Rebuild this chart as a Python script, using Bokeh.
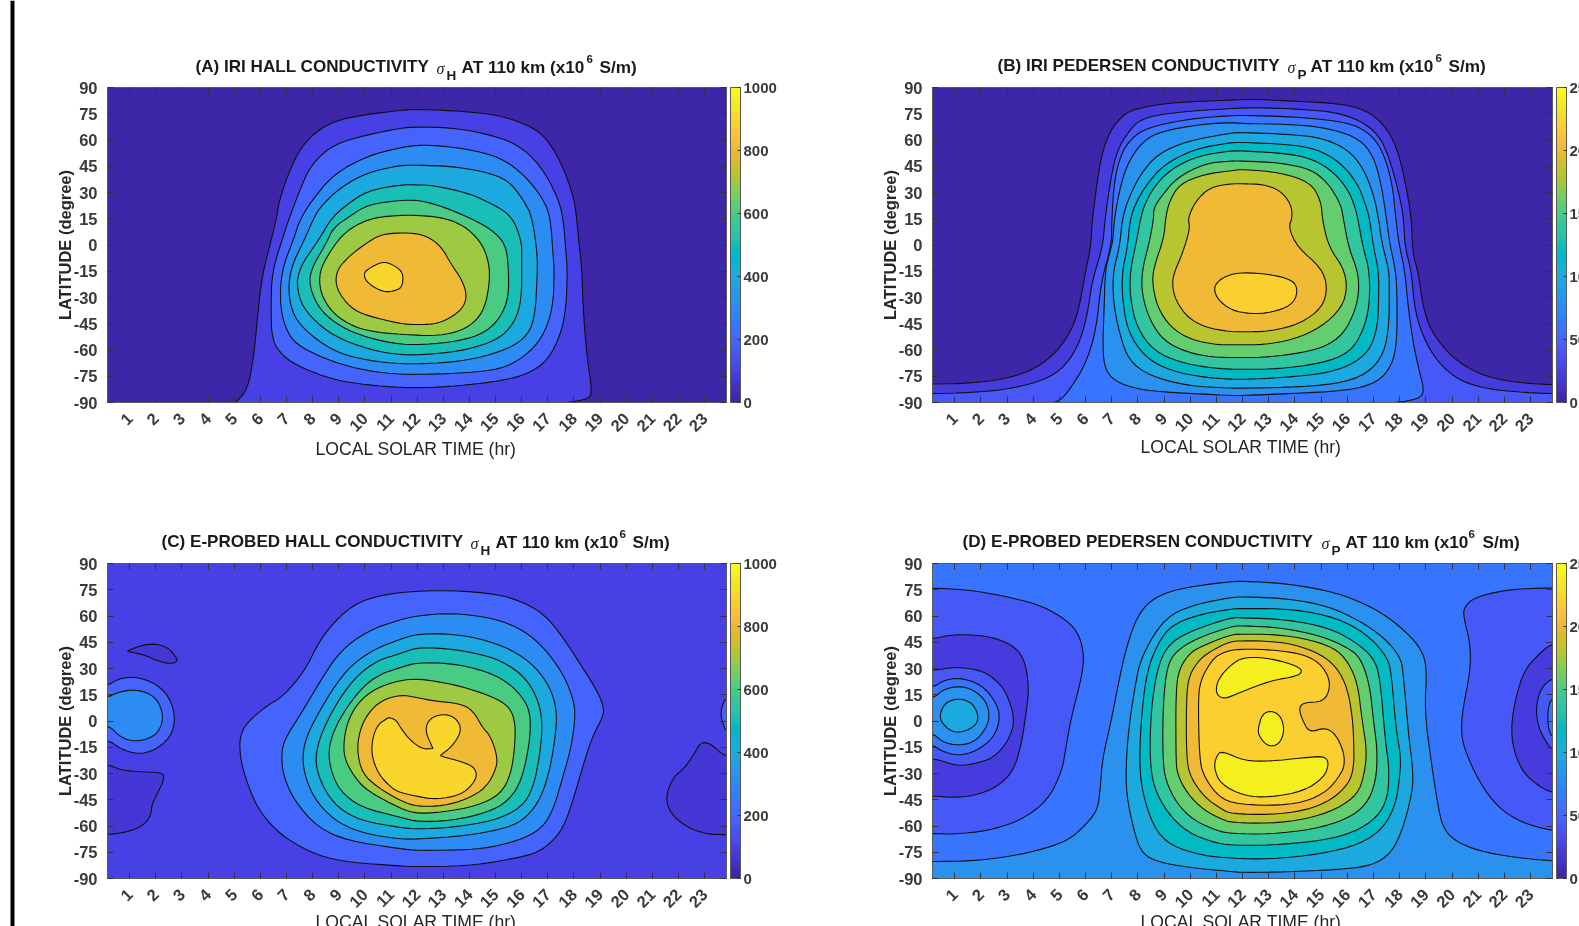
from math import pi
from bokeh.core.properties import value
from bokeh.embed import file_html
from bokeh.resources import INLINE
from bokeh.plotting import figure
from bokeh.layouts import column, row
from bokeh.models import (ColorBar, ColumnDataSource, FixedTicker, LinearAxis,
                          LinearColorMapper, Range1d)

HOURS = list(range(1, 24))
LATS = list(range(-90, 91, 15))
BAR_A = [0, 200, 400, 600, 800, 1000]
BAR_B = [0, 50, 100, 150, 200, 250]

PARULA_RGB = [
 (.2422,.1504,.6603),(.2504,.1650,.7076),(.2578,.1818,.7511),(.2647,.1978,.7952),(.2706,.2147,.8364),(.2751,.2342,.8710),
 (.2783,.2559,.8991),(.2803,.2782,.9221),(.2813,.3006,.9414),(.2810,.3228,.9579),(.2795,.3447,.9717),(.2760,.3667,.9829),
 (.2699,.3892,.9906),(.2602,.4123,.9952),(.2440,.4358,.9988),(.2206,.4603,.9973),(.1963,.4847,.9892),(.1834,.5074,.9798),
 (.1786,.5289,.9682),(.1764,.5499,.9520),(.1687,.5703,.9359),(.1540,.5902,.9218),(.1460,.6091,.9079),(.1380,.6276,.8973),
 (.1248,.6459,.8883),(.1113,.6635,.8763),(.0952,.6798,.8598),(.0689,.6948,.8394),(.0297,.7082,.8163),(.0036,.7203,.7917),
 (.0067,.7312,.7660),(.0433,.7411,.7394),(.0964,.7500,.7120),(.1408,.7584,.6842),(.1717,.7670,.6554),(.1938,.7758,.6251),
 (.2161,.7843,.5923),(.2470,.7918,.5567),(.2906,.7973,.5188),(.3406,.8008,.4789),(.3909,.8029,.4354),(.4456,.8024,.3909),
 (.5044,.7993,.3480),(.5616,.7942,.3045),(.6174,.7876,.2612),(.6720,.7793,.2227),(.7242,.7698,.1910),(.7738,.7598,.1646),
 (.8203,.7498,.1535),(.8634,.7406,.1596),(.9035,.7330,.1774),(.9393,.7288,.2100),(.9728,.7298,.2394),(.9956,.7434,.2371),
 (.9970,.7659,.2199),(.9952,.7893,.2028),(.9892,.8136,.1885),(.9786,.8386,.1766),(.9676,.8639,.1643),(.9610,.8890,.1537),
 (.9597,.9135,.1423),(.9628,.9373,.1265),(.9691,.9606,.1064),(.9769,.9839,.0805)]
PARULA = ["#%02x%02x%02x" % tuple(round(c * 255) for c in t) for t in PARULA_RGB]

# ---- contour lines: (local time hr, latitude deg) ----
A100 = [(5.05,-91),(5.05,-90),(5.5,-83),(5.75,-64),(5.95,-32),(6.08,-17),(6.4,2),(6.6,14),(6.72,25),(7.05,40),(7.55,56),(8.3,67),(9.3,73),(11.35,77),(12,77.6),(13.9,76.3),(15.2,74),(16.5,67),(17.1,58),(17.6,44),(18,27),(18.1,16),(18.2,0),(18.3,-13),(18.35,-36),(18.5,-64),(18.7,-84),(18.55,-88),(17.75,-90),(17.5,-91)]
A200 = [(11.36,66.8),(10.1,63),(8.8,57.6),(7.95,46),(7.55,33),(7.05,13),(6.9,6),(6.45,-15),(6.4,-36),(6.45,-55),(6.9,-64),(7.55,-70),(8.8,-77),(10.1,-80),(11.36,-81.5),(12.6,-81.5),(13.9,-80),(15.2,-77.6),(16.2,-74),(17,-66),(17.5,-51),(17.7,-36),(17.75,-15),(17.7,-5),(17.6,14),(17.4,27),(16.7,46),(15.8,58),(14.55,64),(13.3,67),(12,67.5)]
A300 = [(11.36,55.7),(10.1,51),(8.8,40.4),(7.95,25),(7.5,14),(7.3,4.4),(6.8,-15),(6.75,-36),(7.05,-51),(7.55,-58.6),(8.8,-67),(10.1,-72),(11.36,-74),(12.6,-73.8),(13.9,-73),(15.2,-71),(16.1,-64),(16.8,-53),(17.2,-36),(17.25,-15),(17.2,-5),(17.1,16),(16.8,27),(16.1,40),(15.2,50),(13.9,55),(12.6,57),(12,57)]
A400 = [(11.36,45.6),(10.1,41.4),(9.07,33),(8.3,22),(8,14),(7.73,4.4),(7.1,-15),(7.1,-34),(7.55,-47),(8.8,-61),(10.1,-66),(11.36,-68),(12.6,-67.7),(13.9,-66),(15.2,-61),(16.1,-54),(16.5,-43),(16.6,-17),(16.6,-5),(16.4,16),(16.1,25),(15.5,37),(14.55,42),(13.3,45),(12,45.6)]
A500 = [(11.36,34.4),(10.1,31),(9.3,23),(8.7,15),(8.3,4.4),(7.4,-15),(7.45,-30),(7.9,-41),(8.8,-52),(10.1,-59.5),(11.36,-63),(12.6,-62.4),(13.9,-60),(15.1,-54),(15.7,-45),(16,-32),(16,-7),(16,2),(15.65,16),(14.95,23),(13.9,30),(12.6,34),(12,34.4)]
A600 = [(11.36,25.6),(10.1,23),(9.45,16.7),(8.8,10),(8.5,0.5),(7.9,-15),(7.9,-25),(8.3,-37.6),(9.1,-47),(10.1,-53),(11.36,-57),(12.6,-56.7),(13.9,-54),(14.7,-49),(15.2,-41),(15.5,-30),(15.5,-13),(15.4,-1),(15.1,5.5),(14.5,12),(13.4,19.5),(12.6,23.7),(12,25.6)]
A700 = [(11.36,17),(10.35,15.7),(9.6,11),(9.1,5),(8.7,-3),(8.25,-15),(8.3,-28),(8.8,-39.5),(9.6,-47),(10.5,-50),(11.36,-51),(12.6,-52),(13.5,-50),(14.15,-45),(14.6,-36),(14.8,-18.6),(14.7,-7),(14.4,2.5),(13.8,11),(13,15.7),(12,17)]
A800 = [(11.36,7),(10.6,6),(10,0.5),(9.35,-7),(8.9,-15),(8.9,-25),(9.45,-36),(10.1,-40.5),(11.36,-45),(12,-45.6),(12.8,-45),(13.4,-40.5),(13.8,-35),(13.9,-28),(13.7,-19.5),(13.3,-11),(12.95,-1.5),(12.5,4),(12,6.6)]
A900 = [(9.95,-16),(10.2,-13),(10.6,-10),(10.9,-10),(11.36,-14),(11.47,-18),(11.43,-23),(11.3,-25.5),(10.85,-27),(10.5,-25.5),(10.05,-21)]

B20 = [(-1,-79.5),(0.15,-79.5),(1.6,-79),(2.85,-76.7),(3.9,-72),(4.7,-64),(5.3,-53),(5.7,-40),(6,-15),(6.2,-1),(6.25,14),(6.45,37),(6.65,54),(7,67),(7.5,75),(7.95,78),(9.25,81.4),(11.55,82.8),(12.4,83.3),(13.7,82.4),(15.6,81),(16.65,77.6),(17.4,69),(17.9,55.7),(18.2,37),(18.45,16),(18.5,-5),(18.7,-15),(18.9,-36),(19.2,-49),(19.85,-62),(20.75,-72),(22,-78),(23.85,-80),(25,-80),(25,-100),(-1,-100)]
B40 = [(-1,-85),(0.15,-85),(1.6,-84.3),(2.85,-82.8),(4.15,-78.6),(5.05,-72),(5.7,-58.6),(6.05,-41.5),(6.25,-20.5),(6.65,-1.3),(6.75,15.7),(6.95,37),(7.2,54),(7.65,65),(8.1,72),(9.25,75.7),(11.55,78),(12.4,78.6),(14.3,77.6),(15.6,75.7),(16.5,71),(17.2,63),(17.6,50),(17.95,31),(18.15,16),(18.2,-1),(18.45,-15),(18.55,-34),(18.8,-49),(19.3,-64),(20.1,-76),(21.1,-81.6),(22.4,-84),(23.85,-85),(25,-85),(25,-100),(-1,-100)]
B60 = [(4.5,-92),(4.5,-90.3),(5,-89.6),(5.45,-81.4),(6,-68),(6.4,-49),(6.6,-20.5),(7,0.5),(7,15.7),(7.1,37),(7.35,52),(7.75,61),(8.35,67),(9.9,72),(11.55,74),(12.4,74),(14.3,73),(16,70),(16.75,65),(17.3,55.7),(17.7,37),(17.85,16),(17.95,2.5),(18.2,-15),(18.3,-32),(18.5,-55),(18.75,-72),(18.95,-84),(18.7,-88),(17.9,-90),(17.4,-90.3),(17.4,-92)]
B80 = [(11.55,-86),(9.25,-84.3),(7.95,-82.4),(7.1,-77.6),(6.75,-71),(6.65,-60),(6.7,-39.5),(6.75,-15),(6.9,-5.5),(7.05,2.5),(7.1,15.7),(7.35,35),(7.65,48),(8.2,59.5),(8.9,65),(10.4,69),(11.55,70),(12,69.4),(13.7,69),(15,67.5),(16.25,62.4),(16.9,53.8),(17.25,38.6),(17.5,15),(17.6,2.5),(17.85,-15),(17.9,-28),(17.9,-55),(17.7,-69),(17.15,-78.6),(16,-83.3),(13.7,-85),(12,-86)]
B100 = [(12,64.3),(13.7,63.3),(15,61.4),(16,54.8),(16.6,44.3),(17,29),(17.2,15),(17.3,2.5),(17.6,-15),(17.6,-24.3),(17.6,-45),(17.4,-62.4),(16.75,-73.8),(15.6,-79.5),(13.7,-81.4),(12,-81.8),(11.55,-81.8),(9.9,-80.5),(8.45,-74.8),(7.65,-66),(7.3,-51),(7.05,-32),(7.05,-15),(7.3,-1.3),(7.4,15),(7.65,27),(8.1,40.5),(8.75,52),(9.9,59.5),(11.55,64)]
B120 = [(11.55,58.6),(10.15,54.8),(9,46),(8.35,35),(7.95,25),(7.7,15),(7.6,-1.3),(7.4,-15),(7.4,-30),(7.6,-49),(8.25,-64),(9.25,-72),(10.55,-75.7),(11.55,-76.7),(12,-76.7),(13.05,-76.3),(15,-73.8),(16.1,-69),(16.85,-60.5),(17.15,-47),(17.2,-32),(17.2,-15),(17,-1.3),(16.85,15),(16.7,23),(16.4,35),(15.75,47),(14.85,54.8),(13.7,57.6),(12,58.6)]
B140 = [(11.55,53.8),(10.3,51),(9.25,43.3),(8.6,33),(8.25,23),(8.1,15),(7.95,2.5),(7.7,-15),(7.7,-30),(7.95,-47),(8.6,-60.5),(9.6,-67),(10.65,-70),(11.55,-71),(12,-71),(13.05,-71),(14.45,-69),(15.6,-65),(16.25,-58.6),(16.65,-47),(16.85,-34),(16.85,-15),(16.6,-1.3),(16.4,15),(16.3,21.4),(16.05,31),(15.5,41.4),(14.7,49),(13.7,52.3),(12,53.8)]
B160 = [(11.55,48),(10.55,46.6),(9.5,38.6),(8.9,28),(8.6,21),(8.6,15),(8.45,2.5),(8.15,-15),(8.15,-28),(8.45,-43),(9,-55),(9.9,-61.4),(10.8,-64),(11.55,-64.3),(12,-64.3),(12.7,-64.3),(13.95,-62.4),(15.1,-58.6),(15.85,-51),(16.3,-37.6),(16.45,-26),(16.4,-15),(16.05,-1.3),(15.85,15),(15.75,23.3),(15.25,35.7),(14.6,43.3),(13.45,47),(12,48)]
B180 = [(11.55,42.4),(10.55,40.5),(9.6,35),(9.2,25),(9.05,15),(9,4.4),(8.6,-13),(8.55,-22.4),(8.75,-35.7),(9.25,-47),(10,-54),(11,-57),(11.55,-57),(12,-57),(12.8,-57),(13.95,-54),(15,-47),(15.8,-35.7),(16,-24),(15.85,-13),(15.3,-1.3),(15.05,13.8),(15,25),(14.6,35.7),(13.45,41.4),(12,43.3)]
B200 = [(11.55,35),(10.75,33),(10.2,25),(9.9,15),(10,10),(9.7,-5),(9.4,-15),(9.3,-22.4),(9.45,-32),(9.9,-41.4),(10.55,-47),(11.55,-49.6),(12,-49.6),(13.05,-49.4),(14.2,-45),(15.05,-35.7),(15.25,-24),(15,-13),(14.1,-1.3),(13.75,10),(13.9,15.7),(13.85,23.3),(13.45,31),(12.8,34.7),(12,35)]
B220 = [(10.9,-24),(11.15,-19.5),(11.55,-16.8),(12,-15.7),(13.05,-16.7),(13.9,-20),(14.1,-25),(14,-32),(13.55,-36.7),(12.7,-39.5),(11.9,-38.6),(11.4,-35.7),(11,-30)]

C200 = [(11.36,73.8),(10.1,70),(9.35,64),(8.7,54.4),(8.2,44),(7.7,28.7),(6.9,14.4),(6.15,7.7),(5.5,-0.8),(5.25,-7.5),(5.2,-15),(5.3,-26.6),(5.75,-45.6),(6.25,-57),(7,-67.5),(8.2,-77),(9.45,-80.9),(11.36,-82.8),(12,-83.3),(13.9,-82.8),(15.2,-80),(16.5,-76),(17.1,-70),(17.6,-61),(18,-43.7),(18.4,-22.8),(18.75,-7.5),(19.1,2),(19.15,7.7),(18.9,17),(18.25,32.4),(17.5,49.6),(16.85,61),(16.1,67.7),(15.1,72.5),(13.3,74.8)]
C300 = [(11.36,58),(10.1,51.5),(9.05,40),(8.3,23),(7.55,4),(6.9,-11),(6.8,-21),(6.9,-32),(7.3,-45.6),(8.2,-60.9),(9.35,-68.5),(11.36,-73),(12,-74),(13.3,-73.8),(14.55,-73),(15.85,-68.5),(16.75,-61.8),(17.2,-51),(17.5,-36),(17.9,-15),(18.05,2),(18,11.5),(17.6,26.8),(16.85,42),(16.1,51.5),(15.1,58),(13.9,61),(12.9,61.4),(12,60)]
C400 = [(11.36,46.8),(10.35,41),(9.45,31.5),(8.8,19),(8.2,4),(7.75,-9.4),(7.6,-21),(7.75,-34),(8.2,-47.5),(9.05,-59),(10.1,-64.7),(11.36,-67.5),(12,-67.5),(13.9,-65.6),(15.5,-60.9),(16.2,-55),(16.75,-43.7),(17.1,-26.6),(17.3,-7.5),(17.35,5.8),(17.1,19),(16.5,31.5),(15.6,41),(14.3,47.7),(13,50),(12,49.6)]
C500 = [(11.36,38.6),(10.45,34.4),(9.7,25.8),(9.05,13.4),(8.5,-1.7),(8.2,-13),(8.1,-24.7),(8.4,-38),(8.95,-49.4),(9.85,-57),(11.36,-60.9),(12,-61.8),(13.3,-60.9),(14.95,-57),(16,-49.4),(16.45,-38),(16.7,-19),(16.8,-1.7),(16.65,11.5),(16.15,24.9),(15.25,34.4),(14.2,39),(13,41.6),(12,42)]
C600 = [(11.36,30.6),(10.6,26.8),(9.95,20),(9.3,7.7),(8.8,-5.6),(8.6,-17),(8.7,-28.5),(9.05,-40),(9.85,-49.4),(11.36,-55),(12,-57.6),(13.3,-57),(14.7,-52.3),(15.5,-45.6),(16,-34),(16.3,-13),(16.35,2),(16.15,11.5),(15.5,22),(14.6,28.7),(13.3,33),(12,33.4)]
C700 = [(11.36,23.3),(10.45,19),(9.8,11.5),(9.4,2),(9.2,-9.4),(9.2,-21),(9.6,-32),(10.1,-40),(11.36,-50),(12,-53),(13,-52),(14.3,-48.5),(15.2,-41.8),(15.6,-30),(15.75,-13),(15.75,0.2),(15.5,8.7),(14.8,14.4),(13.65,20),(12.6,23),(12,24)]
C800 = [(11.36,15),(10.6,11.5),(10.1,4),(9.8,-5.6),(9.7,-17),(9.9,-30),(10.5,-38),(11.36,-45.6),(12,-48.9),(13,-48.5),(13.9,-44.7),(14.65,-38),(15.05,-26.6),(15.05,-19),(14.8,-8.5),(14.5,-3.7),(14.15,5.8),(13.65,10),(12.6,11.5),(12,13.4)]
C900 = [(10.85,1.5),(10.5,-2),(10.3,-9.4),(10.25,-19),(10.5,-30),(11,-38),(11.36,-41),(12,-43),(12.6,-44.7),(13.4,-43.3),(13.9,-39.9),(14.3,-32.3),(14.2,-26.6),(13.8,-23.7),(12.9,-20),(12.9,-19.5),(13.3,-15),(13.65,-7.5),(13.65,-1.8),(13.35,3),(12.9,3.9),(12.45,1),(12.3,-5.6),(12.6,-15.5),(12.6,-15.8),(12.2,-16),(11.75,-11.3),(11.36,-3.8),(11.2,0.5),(10.95,2)]
C_L1_OUT = [(-1,20),(0.15,20),(0.53,24),(1.17,25.4),(1.93,22),(2.5,14.4),(2.76,2),(2.57,-9.4),(1.93,-17),(1.3,-19),(0.65,-16),(0.15,-10.4),(-1,-10.4)]
C_L1_IN = [(-1,13.4),(0.15,13.4),(0.53,16.3),(1.1,18),(1.68,16.3),(2.1,11.5),(2.3,2),(2.1,-6.6),(1.68,-10.4),(1.17,-11.7),(0.65,-9.4),(0.15,-1.7),(-1,-1.7)]
C_LOW_N = [(0.9,40),(1.4,43),(1.95,44.3),(2.45,42),(2.7,38),(2.85,34.4),(2.6,32.5),(2.05,34.4),(1.55,37.8),(0.95,39.7)]
C_LOW_S = [(-1,-24.7),(0.15,-24.7),(0.65,-28),(1.3,-29),(2.3,-29.4),(2.3,-34),(2.05,-41.8),(1.85,-47.5),(1.8,-55),(1.4,-60.9),(0.8,-63.7),(0.15,-65),(-1,-65)]
C_LOW_E = [(25,-20.9),(23.8,-20.9),(23.25,-13),(22.85,-12),(22.6,-19),(22.2,-27.5),(21.8,-32),(21.5,-43.7),(21.7,-53),(22.35,-61),(23.1,-64.7),(23.8,-65),(25,-65)]
C_E_OUT = [(25,15),(23.85,15),(23.6,5.8),(23.7,-1.8),(23.85,-6.6),(25,-6.6)]

DW40 = [(-1,76),(0.15,76),(1.6,74.8),(2.85,71.5),(4.15,66.8),(5.05,60),(5.7,51.5),(5.95,38),(5.85,25),(5.45,2),(5.25,-15),(5.1,-28.5),(4.55,-45.6),(3.5,-57),(2.25,-62.8),(0.95,-64.7),(0.15,-64.3),(-1,-64.3)]
DW20 = [(-1,46.8),(0.15,46.8),(0.95,49.6),(2.25,48.7),(3.15,44),(3.65,36.3),(3.85,19),(3.7,2),(3.55,-13),(3.25,-28.5),(2.6,-38),(1.7,-42.8),(0.95,-43.7),(0.15,-42.8),(-1,-42.8)]
DW41 = [(-1,28.7),(0.15,28.7),(1.05,31),(2.1,28.7),(2.75,21),(3.05,13.4),(3.3,0.2),(3.05,-11.3),(2.5,-21),(1.7,-24.7),(1.05,-25.6),(0.15,-21),(-1,-21)]
DW60 = [(-1,19),(0.15,19),(0.55,23),(1.15,24.9),(2,21),(2.55,11.5),(2.75,2),(2.5,-9.4),(1.85,-17),(1.15,-20),(0.45,-17),(0.15,-13.3),(-1,-13.3)]
DW80 = [(-1,12.5),(0.15,12.5),(0.55,18),(1.15,20),(1.7,18),(2.2,11.5),(2.35,2),(2.1,-6.6),(1.7,-12.3),(1.15,-14),(0.55,-12.3),(0.15,-6.6),(-1,-6.6)]
DW100 = [(0.45,4.9),(0.65,10.6),(1.15,13),(1.65,10.6),(1.9,3.9),(1.85,-1.8),(1.45,-5.6),(1.05,-6.6),(0.75,-4.7),(0.45,0.2)]
DE40 = [(25,76),(23.3,76),(22,74.8),(20.85,70.6),(20.45,64.8),(20.45,59),(20.7,44),(20.7,28.7),(20.4,5.8),(20.35,-5.6),(20.45,-15),(21,-34),(21.75,-49.4),(22.65,-58),(23.85,-63),(25,-63)]
DE20 = [(25,44.9),(23.85,44.9),(23.3,38),(22.75,28.7),(22.4,11.5),(22.25,-5.6),(22.4,-19),(22.75,-30),(23.3,-37),(23.85,-41.4),(25,-41.4)]
DE41 = [(25,24.9),(23.85,24.9),(23.4,19),(23.2,7.7),(23.3,-3.7),(23.6,-12),(23.85,-17),(25,-17)]
DE60 = [(25,13.4),(23.85,13.4),(23.7,9.6),(23.65,2),(23.7,-5.6),(23.85,-9.4),(25,-9.4)]
D80 = [(-1,-80.3),(0.15,-80.3),(1.6,-80),(2.85,-78),(4.15,-74.2),(5.3,-68.5),(5.9,-60.9),(6.45,-51.3),(6.55,-40),(6.65,-20.8),(6.95,-2),(7.35,28.7),(7.6,44),(7.95,59),(8.45,68.7),(9.25,74.4),(10.5,77.8),(11.55,79.6),(12,79.9),(13.7,78.6),(15.6,73.4),(17,64.8),(18,54.4),(18.8,42),(19.05,30.6),(18.95,5.8),(19.2,-22.8),(19.45,-47.5),(19.65,-60.9),(20.1,-68.5),(21,-74.2),(22.4,-78),(23.85,-80),(25,-80),(25,-100),(-1,-100)]
D100 = [(11.55,70.6),(10.25,66.8),(9.25,61),(8.6,49.6),(8.1,34.4),(7.95,24.9),(7.7,2),(7.55,-21),(7.55,-41.8),(7.85,-62.8),(8.1,-74.2),(8.6,-80),(9.9,-83.7),(11.55,-86),(12,-86.6),(13.7,-86.2),(15.6,-85),(16.9,-82.8),(17.65,-76),(18.1,-62.8),(18.5,-39.9),(18.5,-26.6),(18.35,-9.4),(18.15,24.9),(18.05,36.3),(17.4,47.7),(16.5,57),(15.25,65.8),(13.7,70),(12,71)]
D120 = [(11.55,64),(10.25,60.5),(9.25,54.4),(8.75,44),(8.35,28.7),(8.15,5.8),(8.05,-21),(8.15,-40),(8.6,-60.9),(9.25,-71.3),(10.5,-77),(11.55,-78.4),(13.05,-79),(15,-76),(16.5,-70.4),(17.4,-60.9),(17.85,-47.5),(18,-32.3),(18.05,-20.8),(17.85,-3.6),(17.7,24.9),(17.55,36.3),(16.75,49.6),(15.6,59),(13.95,64),(12,64.3)]
D140 = [(11.55,59),(10.4,53.5),(9.5,47.5),(9,40),(8.7,26.8),(8.5,5.8),(8.45,-20.8),(8.6,-38),(9.15,-53),(9.9,-63.7),(10.9,-69.4),(11.55,-71),(13.05,-71),(15,-68.5),(16.25,-63.7),(17.15,-55),(17.55,-43.7),(17.6,-26.6),(17.45,-11.3),(17.25,24.9),(17,36.3),(16.25,45.8),(15.25,53.4),(13.7,58),(12,59)]
D160 = [(11.55,54),(10.4,48),(9.75,43),(9.25,36.3),(9.05,24.9),(8.95,4),(8.95,-20.8),(9.05,-34),(9.5,-47.5),(10.15,-57),(11.05,-62.8),(11.55,-64.3),(13.05,-64.7),(14.75,-61.8),(16,-56),(16.75,-47.5),(17.1,-34),(17.15,-17),(17,0.2),(16.85,21),(16.5,36.3),(16,42),(15,48.7),(13.45,53.4),(12,54.4)]
D180 = [(11.55,49.4),(10.4,42.5),(10,39),(9.6,30.6),(9.45,19),(9.45,-20.8),(9.5,-30.4),(9.9,-41.8),(10.55,-51.3),(11.2,-56),(11.55,-58),(13.05,-58.6),(14.45,-56),(15.6,-50.4),(16.4,-41.8),(16.65,-30.4),(16.75,-17),(16.55,2),(16.4,21),(16.05,33.4),(15.5,42),(14.3,47.5),(13.05,49.6),(12,49.6)]
D200 = [(11.55,45.5),(10.9,41),(10.35,35.3),(9.95,25.8),(9.85,13.4),(9.85,-20.8),(10,-32),(10.55,-43.7),(11.2,-50.4),(11.55,-53),(13.05,-53.6),(14.35,-51.3),(15.35,-45.6),(16.05,-36),(16.25,-26.6),(16.25,-13),(16.2,2),(16,19),(15.6,30.6),(15,38),(13.95,44),(12.8,45.8),(12,45.8)]
D220 = [(11.55,40.5),(11,37.5),(10.65,30.6),(10.4,23),(10.3,13.4),(10.35,-22.8),(10.55,-32.3),(11,-41.8),(11.55,-47),(13.05,-48.5),(14.35,-46.6),(15.25,-40),(15.75,-30.4),(15.9,-24.7),(15.85,-17),(15.55,-7.5),(15.15,-3.7),(14.55,-6.6),(14.3,0.1),(14.15,6.8),(14.3,10.6),(15.1,11),(15.35,19),(15.25,26.8),(14.85,34.4),(14.1,39),(12.8,41),(12,41)]
D240N = [(11,21),(11.2,26.5),(11.55,32),(12,36.3),(12.8,36.3),(13.7,33.4),(14.3,29.6),(14.15,25.8),(13.05,23),(11.9,16.3),(11.3,12.5),(11,15)]
D240S = [(10.9,-26.6),(11,-20),(11.2,-17),(12.05,-22.8),(13.05,-23),(14.35,-21),(15.15,-20),(15.3,-24.7),(15.1,-32.3),(14.35,-40),(13.05,-43.7),(12.05,-42.8),(11.15,-36)]
D240C = [(12.6,-3.7),(12.75,4),(13.1,6),(13.45,3),(13.6,-4.6),(13.45,-12.3),(13.1,-14.8),(12.8,-12.3),(12.6,-7.5)]

# painter's order: (contour level, line)
PANEL_A = [(100,A100),(200,A200),(300,A300),(400,A400),(500,A500),(600,A600),(700,A700),(800,A800),(900,A900)]
PANEL_B = [(20,B20),(40,B40),(60,B60),(80,B80),(100,B100),(120,B120),(140,B140),(160,B160),(180,B180),(200,B200),(220,B220)]
PANEL_C = [(70,C_LOW_N),(70,C_LOW_S),(70,C_LOW_E),(200,C_L1_OUT),(300,C_L1_IN),(200,C_E_OUT),(200,C200),(300,C300),(400,C400),(500,C500),(600,C600),(700,C700),(800,C800),(900,C900)]
PANEL_D = [(40,DW40),(20,DW20),(40,DW41),(60,DW60),(80,DW80),(100,DW100),(40,DE40),(20,DE20),(40,DE41),(60,DE60),(80,D80),(100,D100),(120,D120),(140,D140),(160,D160),(180,D180),(200,D200),(220,D220),(240,D240N),(240,D240S),(240,D240C)]

TITLE_A = ["(A) IRI HALL CONDUCTIVITY", "H"]
TITLE_B = ["(B) IRI PEDERSEN CONDUCTIVITY", "P"]
TITLE_C = ["(C) E-PROBED HALL CONDUCTIVITY", "H"]
TITLE_D = ["(D) E-PROBED PEDERSEN CONDUCTIVITY", "P"]
TITLE_UNIT = "AT 110 km (x10"
TITLE_EXP = "6"
TITLE_END = "S/m)"
Y_LABEL = "LATITUDE (degree)"
X_LABEL = "LOCAL SOLAR TIME (hr)"
FONT = "Liberation Sans"
DARK = "#3a3a3a"


def band_color(level, top):
    return PARULA[min(63, int(level / top * 64))]


def rounded(points):
    # the outlines are curves: round the corners of the read polyline when drawing
    pts = points
    for _ in range(2):
        out = []
        for i, (x0, y0) in enumerate(pts):
            x1, y1 = pts[(i + 1) % len(pts)]
            out.append((0.75 * x0 + 0.25 * x1, 0.75 * y0 + 0.25 * y1))
            out.append((0.25 * x0 + 0.75 * x1, 0.25 * y0 + 0.75 * y1))
        pts = out
    return [p[0] for p in pts], [p[1] for p in pts]


def panel(contours, base, top, bar_ticks, left, right_pad, width, height, ftop):
    fw = width - left - right_pad
    p = figure(width=width, height=height, output_backend="svg", toolbar_location=None,
               x_range=Range1d(0.15, 23.84), y_range=Range1d(-90, 90),
               min_border_left=left, min_border_right=right_pad, min_border_top=ftop,
               min_border_bottom=height - ftop - 315, background_fill_color=band_color(base, top),
               border_fill_color="white", outline_line_color="#5a5a5a", outline_line_width=1)
    p.grid.visible = False
    shapes = [rounded(c) for _, c in contours]
    src = ColumnDataSource(dict(xs=[s[0] for s in shapes], ys=[s[1] for s in shapes],
                                c=[band_color(l, top) for l, _ in contours]))
    p.patches("xs", "ys", source=src, fill_color="c", line_color="#101010", line_width=1.1)

    bottom_ax = p.below[0]
    left_ax = p.left[0]
    bottom_ax.ticker = FixedTicker(ticks=HOURS)
    left_ax.ticker = FixedTicker(ticks=LATS)
    left_ax.major_label_overrides = {l: str(l) for l in LATS}
    bottom_ax.major_label_orientation = pi / 4
    left_ax.axis_label = Y_LABEL
    left_ax.axis_label_text_font = FONT
    left_ax.axis_label_text_font_size = "16.5px"
    left_ax.axis_label_text_font_style = "bold"
    left_ax.axis_label_text_color = "#262626"
    left_ax.axis_label_standoff = -3
    top_ax = LinearAxis(ticker=FixedTicker(ticks=HOURS), major_label_overrides={h: "" for h in HOURS})
    right_ax = LinearAxis(ticker=FixedTicker(ticks=LATS), major_label_overrides={l: "" for l in LATS})
    p.add_layout(top_ax, "above")
    p.add_layout(right_ax, "right")
    for ax in (bottom_ax, left_ax, top_ax, right_ax):
        ax.major_tick_in = 6
        ax.major_tick_out = 0
        ax.minor_tick_line_color = None
        ax.axis_line_color = "#5a5a5a"
        ax.major_tick_line_color = "#333333"
        ax.major_label_text_font = FONT
        ax.major_label_text_font_size = "16.5px"
        ax.major_label_text_color = DARK
        ax.major_label_text_font_style = "bold"
    top_ax.major_label_standoff = 0
    right_ax.major_label_standoff = 0
    bottom_ax.major_label_standoff = 13
    left_ax.major_label_standoff = 10

    bar = ColorBar(color_mapper=LinearColorMapper(palette=PARULA, low=0, high=top),
                   ticker=FixedTicker(ticks=bar_ticks), location=(fw + 4, 0), width=10, height=315,
                   padding=0, margin=0, bar_line_color="#5a5a5a", border_line_color=None,
                   background_fill_color=None, major_tick_in=3, major_tick_line_color="#333333",
                   minor_tick_line_color=None, label_standoff=3, major_label_text_font=FONT,
                   major_label_text_font_size="15px", major_label_text_font_style="bold",
                   major_label_text_color=DARK)
    p.add_layout(bar, "center")
    return p


pA = panel(PANEL_A, 0, 1000, BAR_A, 107, 103, 829, 490, 87)
pB = panel(PANEL_B, 0, 250, BAR_B, 103, 27, 750, 490, 87)
pC = panel(PANEL_C, 100, 1000, BAR_A, 107, 103, 829, 436, 73)
pD = panel(PANEL_D, 60, 250, BAR_B, 103, 27, 750, 436, 73)

# page-wide transparent layer for the texts above and below the frames (page pixels, y down)
page = figure(width=1579, height=926, output_backend="svg", toolbar_location=None,
              x_range=Range1d(0, 1579), y_range=Range1d(926, 0), x_axis_type=None, y_axis_type=None,
              min_border=0, background_fill_color=None, border_fill_color=None, outline_line_color=None,
              styles={"position": "fixed", "left": "0px", "top": "0px", "z-index": "10", "pointer-events": "none"})
page.grid.visible = False
page.quad(left=[10], right=[14], top=[0], bottom=[926], fill_color="black", line_color=None)


def put(text, x, y, size, style="bold", font=FONT, color="#1a1a1a"):
    page.text(x=[x], y=[y], text=[text], text_font=value(font), text_font_size=value(size),
              text_font_style=style, text_color=color, text_baseline="alphabetic", text_align="left")


for title, xs, base in [(TITLE_A, [195, 436, 446, 461, 586, 599], 66),
                        (TITLE_B, [997, 1287, 1297, 1310, 1435, 1448], 65),
                        (TITLE_C, [161, 470, 480, 495, 619, 632], 541),
                        (TITLE_D, [962, 1321, 1331, 1345, 1468, 1482], 541)]:
    put(title[0], xs[0], base, "17.1px")
    put("σ", xs[1], base + 2, "16px", "italic", "Liberation Serif")
    put(title[1], xs[2], base + 9, "13.5px")
    put(TITLE_UNIT, xs[3], base, "17.2px")
    put(TITLE_EXP, xs[4], base - 8, "11.5px")
    put(TITLE_END, xs[5], base, "17.2px")

for x, y in [(315, 448), (1140, 446), (315, 921), (1140, 921)]:
    put(X_LABEL, x, y, "17.6px", "normal", color="#262626")

root = column(row(pA, pB, spacing=0), row(pC, pD, spacing=0), page, spacing=0,
              styles={"position": "fixed", "left": "0px", "top": "0px"})
open("out.html", "w").write(file_html(root, INLINE))
